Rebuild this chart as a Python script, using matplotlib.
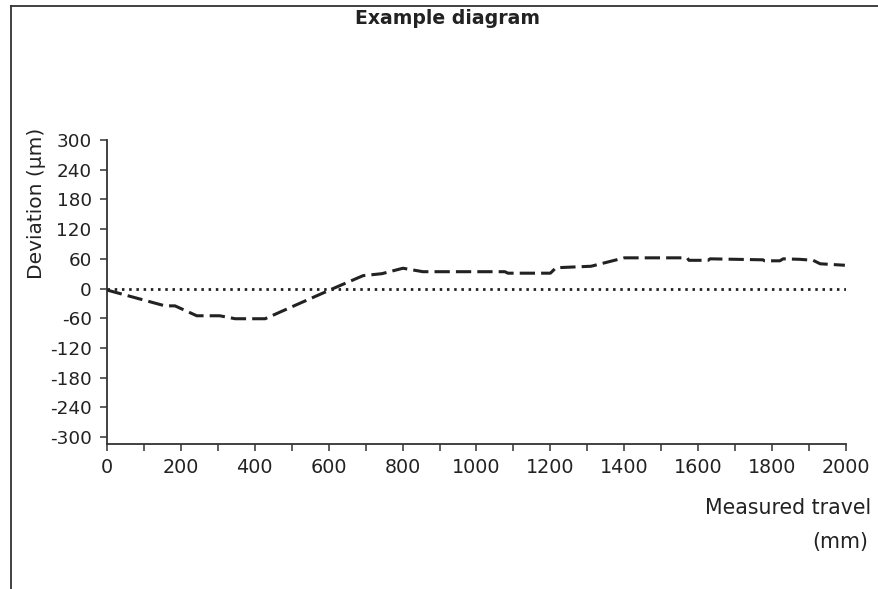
import matplotlib
matplotlib.use("Agg")
import matplotlib.pyplot as plt
from matplotlib.lines import Line2D

plt.rcParams["font.family"] = ["DejaVu Sans"]

# Data
travel_mm = [0, 157, 184, 243, 305, 347, 428, 500, 612, 693, 744, 801, 855,
             1077, 1085, 1200, 1215, 1310, 1400, 1570, 1575, 1627, 1632,
             1775, 1780, 1821, 1830, 1875, 1911, 1930, 1997]
deviation_um = [-3, -35, -35, -55, -55, -61, -61, -37, 0, 26, 30, 41, 34,
                34, 31, 31, 42, 45, 62, 62, 57, 57, 60, 58, 56, 56, 60, 59,
                57, 50, 47]
x_ticks = list(range(0, 2001, 200))
x_minor = list(range(0, 2001, 100))
y_ticks = list(range(-300, 301, 60))

title = "Example diagram"
y_label = "Deviation (µm)"
x_label_1 = "Measured travel"
x_label_2 = "(mm)"

W, H = 879, 589
fig = plt.figure(figsize=(W / 100, H / 100), dpi=100)
ax = fig.add_axes([107 / W, 1 - 444 / H, (846 - 107) / W, (444 - 140) / H])

ink = "#222222"
ax.plot(travel_mm, deviation_um, color=ink, lw=2.2, linestyle=(0, (5, 2)),
        solid_capstyle="butt", dash_capstyle="butt", zorder=3)
ax.plot([0, 2000], [0, 0], color=ink, lw=2.0, linestyle=(0, (0.9, 1.7)), zorder=2)

ax.set_xlim(0, 2000)
ax.set_ylim(-314, 300)
ax.set_xticks(x_ticks)
ax.set_xticks(x_minor, minor=True)
ax.set_yticks(y_ticks)
ax.set_yticklabels([str(v) for v in y_ticks])
for s in ["top", "right"]:
    ax.spines[s].set_visible(False)
for s in ["left", "bottom"]:
    ax.spines[s].set_color("#333333")
    ax.spines[s].set_linewidth(1.3)
ax.tick_params(axis="both", which="both", direction="out", length=5,
               width=1.1, color="#333333", labelcolor="#222222")
ax.tick_params(axis="x", which="major", labelsize=13.8, pad=5)
ax.tick_params(axis="y", which="major", labelsize=13.2, pad=6)
ax.tick_params(axis="x", which="minor", labelbottom=False)

fig.text(37 / W, 1 - 203 / H, y_label, rotation=90, ha="center", va="center",
         fontsize=14.5, color="#222222")

fig.text(448 / W, 1 - 18 / H, title, ha="center", va="center", fontsize=13.6,
         fontweight="bold", color="#222222")
fig.text(871 / W, 1 - 508 / H, x_label_1, ha="right", va="center", fontsize=14.8,
         color="#222222")
fig.text(868 / W, 1 - 542 / H, x_label_2, ha="right", va="center", fontsize=14.8,
         color="#222222")

# Frame lines (top and left)
fig.add_artist(Line2D([11 / W, 1.0], [1 - 6 / H, 1 - 6 / H], transform=fig.transFigure,
                      color="#333333", lw=1.3))
fig.add_artist(Line2D([11 / W, 11 / W], [0, 1 - 6 / H], transform=fig.transFigure,
                      color="#333333", lw=1.3))

fig.savefig("out.png", dpi=100)
